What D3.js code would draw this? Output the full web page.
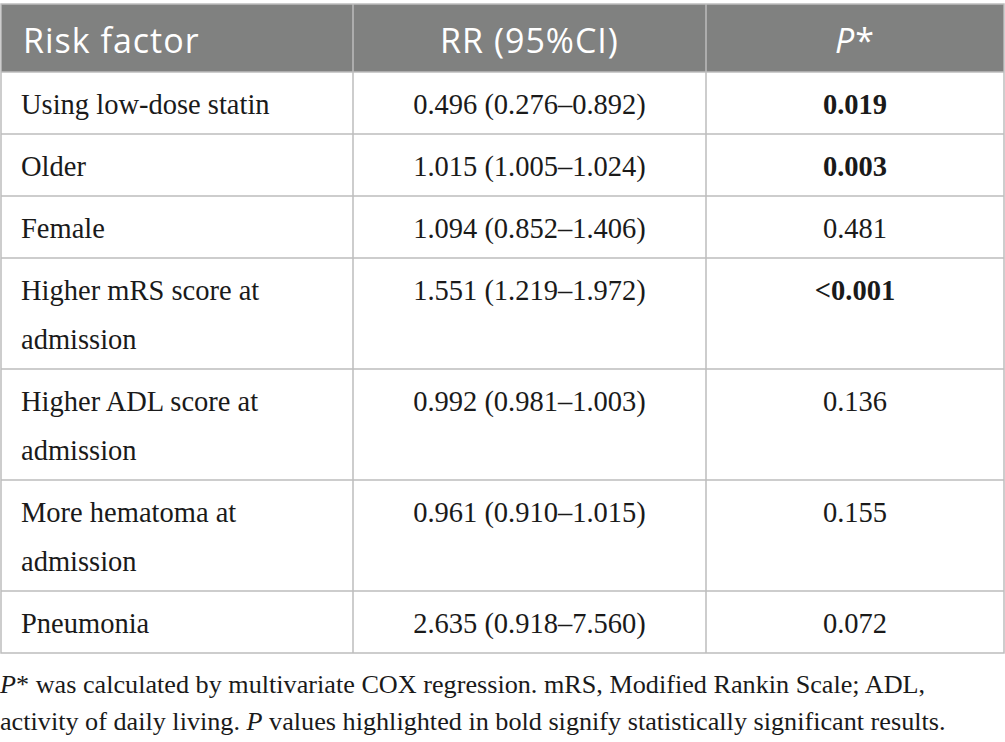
<!DOCTYPE html>
<html>
<head>
<meta charset="utf-8">
<title>Risk factors table</title>
<script src="https://cdnjs.cloudflare.com/ajax/libs/d3/7.8.5/d3.min.js"></script>
<style>
body { margin: 0; background: #fff; }
.head { font-family: "Open Sans", Lato, sans-serif; font-size: 34px; letter-spacing: 1px; fill: #fff; }
.cell { font-family: "Liberation Serif", serif; font-size: 28.5px; fill: #1a1a1a; }
.note { font-family: "Liberation Serif", serif; font-size: 26.2px; fill: #1a1a1a; }
.grid { stroke: #bdbdbd; stroke-width: 1.5; fill: none; }
</style>
</head>
<body>
<script>
// table content
var headers = ["Risk factor", "RR (95%CI)", "P*"];
var factors = [
    ["Using low-dose statin"],
    ["Older"],
    ["Female"],
    ["Higher mRS score at", "admission"],
    ["Higher ADL score at", "admission"],
    ["More hematoma at", "admission"],
    ["Pneumonia"]
];
var rr = [
    "0.496 (0.276\u20130.892)",
    "1.015 (1.005\u20131.024)",
    "1.094 (0.852\u20131.406)",
    "1.551 (1.219\u20131.972)",
    "0.992 (0.981\u20131.003)",
    "0.961 (0.910\u20131.015)",
    "2.635 (0.918\u20137.560)"
];
var pvals = ["0.019", "0.003", "0.481", "<0.001", "0.136", "0.155", "0.072"];
var significant = [true, true, false, true, false, false, false];

var W = 1005, H = 742;
var colEdges = [1, 353, 706, 1004];
var tableTop = 4, headH = 68, rowH1 = 62, lineH = 49;

var svg = d3.select("body").append("svg")
    .attr("width", W)
    .attr("height", H);

// row positions
var rows = [];
var y = tableTop + headH;
factors.forEach(function(f, i) {
    var h = rowH1 + (f.length - 1) * lineH;
    rows.push({y: y, h: h, i: i});
    y += h;
});
var tableBottom = y;

// header
svg.append("rect")
    .attr("x", colEdges[0]).attr("y", tableTop)
    .attr("width", colEdges[3] - colEdges[0]).attr("height", headH)
    .attr("fill", "#808180");

var colCenter = function(c) { return (colEdges[c] + colEdges[c + 1]) / 2; };

svg.append("text").attr("class", "head")
    .attr("x", 23).attr("y", tableTop + 49)
    .text(headers[0]);
svg.append("text").attr("class", "head")
    .attr("x", colCenter(1)).attr("y", tableTop + 49)
    .attr("text-anchor", "middle")
    .text(headers[1]);
var ph = svg.append("text").attr("class", "head")
    .attr("x", colCenter(2)).attr("y", tableTop + 49)
    .attr("text-anchor", "middle");
ph.append("tspan").attr("font-style", "italic").text("P");
ph.append("tspan").text("*");

// grid lines
var g = svg.append("g");
g.append("rect").attr("class", "grid")
    .attr("x", colEdges[0]).attr("y", tableTop)
    .attr("width", colEdges[3] - colEdges[0])
    .attr("height", tableBottom - tableTop);
g.selectAll("line.h").data(rows).enter().append("line")
    .attr("class", "grid")
    .attr("x1", colEdges[0]).attr("x2", colEdges[3])
    .attr("y1", function(d) { return d.y; })
    .attr("y2", function(d) { return d.y; });
g.selectAll("line.v").data([colEdges[1], colEdges[2]]).enter().append("line")
    .attr("class", "grid")
    .attr("x1", function(d) { return d; }).attr("x2", function(d) { return d; })
    .attr("y1", tableTop).attr("y2", tableBottom);

// body cells
var body = svg.append("g");
var rg = body.selectAll("g.row").data(rows).enter().append("g");

rg.each(function(d) {
    var sel = d3.select(this);
    var base = d.y + 42;
    factors[d.i].forEach(function(line, k) {
        sel.append("text").attr("class", "cell")
            .attr("x", 21).attr("y", base + k * lineH)
            .text(line);
    });
    sel.append("text").attr("class", "cell")
        .attr("x", colCenter(1)).attr("y", base)
        .attr("text-anchor", "middle")
        .text(rr[d.i]);
    sel.append("text").attr("class", "cell")
        .attr("x", colCenter(2)).attr("y", base)
        .attr("text-anchor", "middle")
        .attr("font-weight", significant[d.i] ? "bold" : "normal")
        .text(pvals[d.i]);
});

// footnote
var note1 = svg.append("text").attr("class", "note").attr("x", 0).attr("y", 693);
note1.append("tspan").attr("font-style", "italic").text("P");
note1.append("tspan").text("* was calculated by multivariate COX regression. mRS, Modified Rankin Scale; ADL,");
var note2 = svg.append("text").attr("class", "note").attr("x", 0).attr("y", 730);
note2.append("tspan").text("activity of daily living. ");
note2.append("tspan").attr("font-style", "italic").text("P");
note2.append("tspan").text(" values highlighted in bold signify statistically significant results.");
</script>
</body>
</html>
